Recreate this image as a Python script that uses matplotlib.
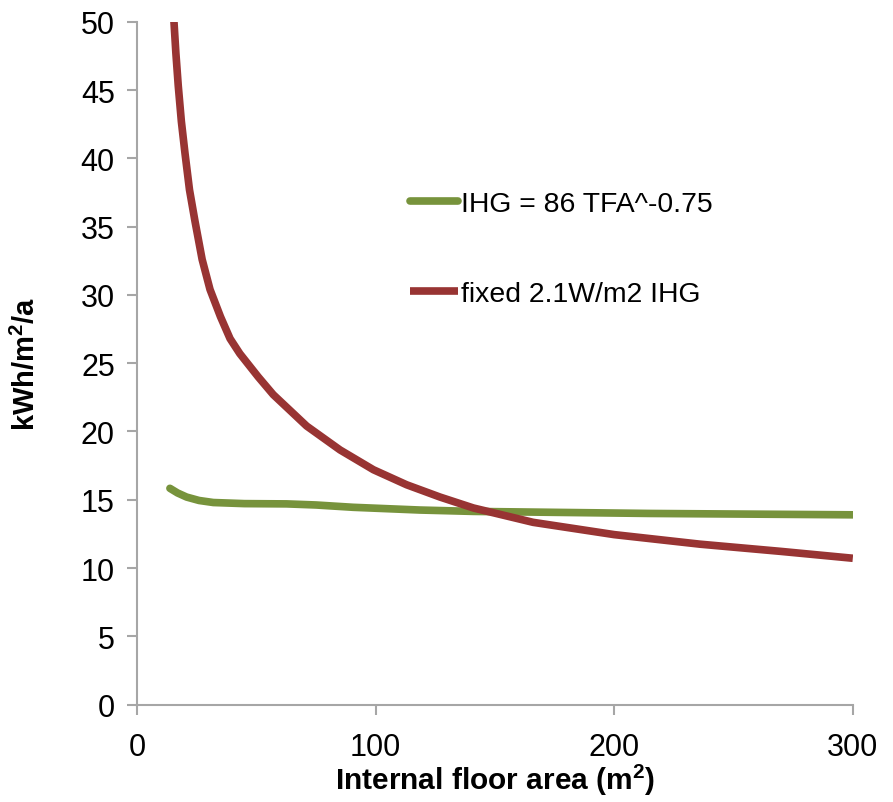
import matplotlib
matplotlib.use("Agg")
import matplotlib.pyplot as plt

plt.rcParams['font.family'] = ['Liberation Sans', 'DejaVu Sans']
plt.rcParams['mathtext.fontset'] = 'custom'
plt.rcParams['mathtext.rm'] = 'Liberation Sans'
plt.rcParams['mathtext.bf'] = 'Liberation Sans:bold'

# Data
ihg_area = [13.8, 17, 20.8, 26, 32, 45, 62.7, 75, 90.6, 118.6, 140.9, 215, 300]
ihg_vals = [15.84, 15.5, 15.2, 14.95, 14.8, 14.72, 14.7, 14.62, 14.45, 14.25, 14.15, 14.0, 13.9]

fixed_area = [15.5, 16.3, 17.3, 18.6, 20.1, 22.0, 24.3, 27.3, 30.6, 35, 39, 43.1, 50.8,
              57.1, 71.1, 85.1, 99.1, 113, 127, 141, 166, 200, 236, 270, 300]
fixed_vals = [50, 47.7, 45.3, 42.7, 40.4, 37.7, 35.4, 32.6, 30.4, 28.4, 26.8, 25.7, 24.0,
              22.7, 20.4, 18.65, 17.2, 16.1, 15.2, 14.4, 13.35, 12.45, 11.75, 11.22, 10.72]

labels = ["IHG = 86 TFA^-0.75", "fixed 2.1W/m2 IHG"]
x_ticks = [0, 100, 200, 300]
y_ticks = [0, 5, 10, 15, 20, 25, 30, 35, 40, 45, 50]

fig = plt.figure(figsize=(8.93, 8.03), dpi=100)
ax = fig.add_axes([0.1534, 0.1212, 0.8016, 0.8505])

ax.plot(ihg_area, ihg_vals, color='#77933C', lw=5.5, solid_capstyle='round',
        solid_joinstyle='round', label=labels[0])
ax.plot(fixed_area, fixed_vals, color='#983433', lw=5.5, solid_capstyle='butt',
        solid_joinstyle='round', label=labels[1])

ax.set_xlim(0, 300)
ax.set_ylim(0, 50)
ax.set_xticks(x_ticks)
ax.set_yticks(y_ticks)

for s in ['top', 'right']:
    ax.spines[s].set_visible(False)
for s in ['left', 'bottom']:
    ax.spines[s].set_color('#A6A6A6')
    ax.spines[s].set_linewidth(1.5)
ax.tick_params(axis='both', direction='out', length=7, width=1.5, color='#A6A6A6',
               labelsize=22)
ax.tick_params(axis='x', pad=13)
ax.tick_params(axis='y', pad=9)

ax.set_xlabel(r"Internal floor area (m$^\mathbf{2}$)", fontsize=21.5, fontweight='bold')
ax.set_ylabel(r"kWh/m$^\mathbf{2}$/a", fontsize=21, fontweight='bold')
ax.xaxis.set_label_coords(0.5, -0.083)
ax.yaxis.set_label_coords(-0.134, 0.5)

ax.legend(loc='upper left', bbox_to_anchor=(0.381, 0.752), frameon=False, fontsize=20.4,
          handlelength=1.7, handletextpad=0.1, labelspacing=2.25, borderpad=0,
          borderaxespad=0)

fig.savefig("out.png", dpi=100)
